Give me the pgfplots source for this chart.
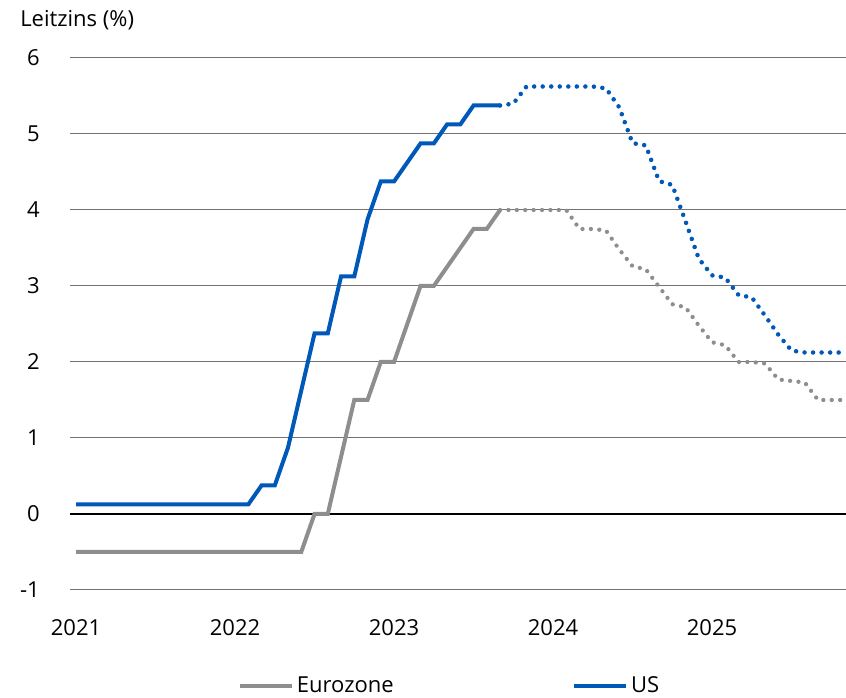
\documentclass[border=0pt]{standalone}
\usepackage{fontspec}
\setmainfont{Open Sans}
\usepackage{pgfplots}
\pgfplotsset{compat=1.18}
\definecolor{usblue}{RGB}{0,88,184}
\definecolor{ezgray}{RGB}{141,142,143}
\newcommand{\chartfont}{\fontsize{16.5}{19}\selectfont}

% months counted from Jan 2021 (0)
\pgfplotstableread{
m v
0 -0.5
1 -0.5
2 -0.5
3 -0.5
4 -0.5
5 -0.5
6 -0.5
7 -0.5
8 -0.5
9 -0.5
10 -0.5
11 -0.5
12 -0.5
13 -0.5
14 -0.5
15 -0.5
16 -0.5
17 -0.5
18 0
19 0
20 0.75
21 1.5
22 1.5
23 2.0
24 2.0
25 2.5
26 3.0
27 3.0
28 3.25
29 3.5
30 3.75
31 3.75
32 4.0
}\ezhist
\pgfplotstableread{
m v
32 4.0
33 4.0
34 4.0
35 4.0
36 4.0
37 4.0
38 3.75
39 3.75
40 3.73
41 3.48
42 3.26
43 3.22
44 2.99
45 2.76
46 2.72
47 2.48
48 2.26
49 2.22
50 2.0
51 2.0
52 1.98
53 1.77
54 1.75
55 1.73
56 1.5
57 1.5
58 1.5
}\ezfwd
\pgfplotstableread{
m v
0 0.125
1 0.125
2 0.125
3 0.125
4 0.125
5 0.125
6 0.125
7 0.125
8 0.125
9 0.125
10 0.125
11 0.125
12 0.125
13 0.125
14 0.375
15 0.375
16 0.875
17 1.625
18 2.375
19 2.375
20 3.125
21 3.125
22 3.875
23 4.375
24 4.375
25 4.625
26 4.875
27 4.875
28 5.125
29 5.125
30 5.375
31 5.375
32 5.375
}\ushist
\pgfplotstableread{
m v
32 5.375
33 5.40
34 5.625
35 5.625
36 5.625
37 5.625
38 5.625
39 5.625
40 5.60
41 5.35
42 4.88
43 4.85
44 4.38
45 4.33
46 3.85
47 3.36
48 3.14
49 3.11
50 2.88
51 2.85
52 2.61
53 2.36
54 2.15
55 2.125
56 2.125
57 2.125
58 2.125
}\usfwd

\begin{document}
\chartfont
\begin{tikzpicture}
\useasboundingbox (-52.5pt,-81pt) rectangle (582pt,442.5pt);
\begin{axis}[
    at={(0,0)}, anchor=south west,
    scale only axis,
    width=582pt, height=399pt,
    xmin=-0.453, xmax=58.11,
    ymin=-1, ymax=6,
    xtick={0,12,24,36,48},
    xticklabels={2021,2022,2023,2024,2025},
    ytick={-1,1,2,3,4,5,6},
    yticklabels={-1,1,2,3,4,5,6},
    ymajorgrids,
    major grid style={black!55, line width=0.75pt},
    extra y ticks={0},
    extra y tick labels={0},
    extra y tick style={ymajorgrids=true, major grid style={black, line width=1.1pt}},
    axis line style={draw=none},
    tick style={draw=none},
    tick label style={font=\chartfont},
    xticklabel style={anchor=base, yshift=-34.5pt},
    yticklabel style={anchor=east, xshift=-17pt},
    legend columns=2,
    legend style={draw=none, fill=none, font=\chartfont,
        at={(0.2165,-0.1805)}, anchor=west, inner sep=0pt,
        /tikz/every even column/.append style={column sep=132pt}},
    legend image code/.code={\draw[#1, solid, line width=3pt] (0pt,0pt) -- (39pt,0pt);},
    clip=false,
]
\addplot[ezgray, line width=3pt] table[x=m, y=v] {\ezhist};
\addlegendentry{Eurozone}
\addplot[usblue, line width=3pt] table[x=m, y=v] {\ushist};
\addlegendentry{US}
\addplot[ezgray, line width=3.2pt, line cap=round, dash pattern=on 0pt off 6.3pt, forget plot] table[x=m, y=v] {\ezfwd};
\addplot[usblue, line width=3.4pt, line cap=round, dash pattern=on 0pt off 6.4pt, forget plot] table[x=m, y=v] {\usfwd};
\end{axis}
\node[anchor=base west, inner sep=0pt, font=\chartfont] at (-37.5pt,422.25pt) {Leitzins (\%)};
\end{tikzpicture}
\end{document}
